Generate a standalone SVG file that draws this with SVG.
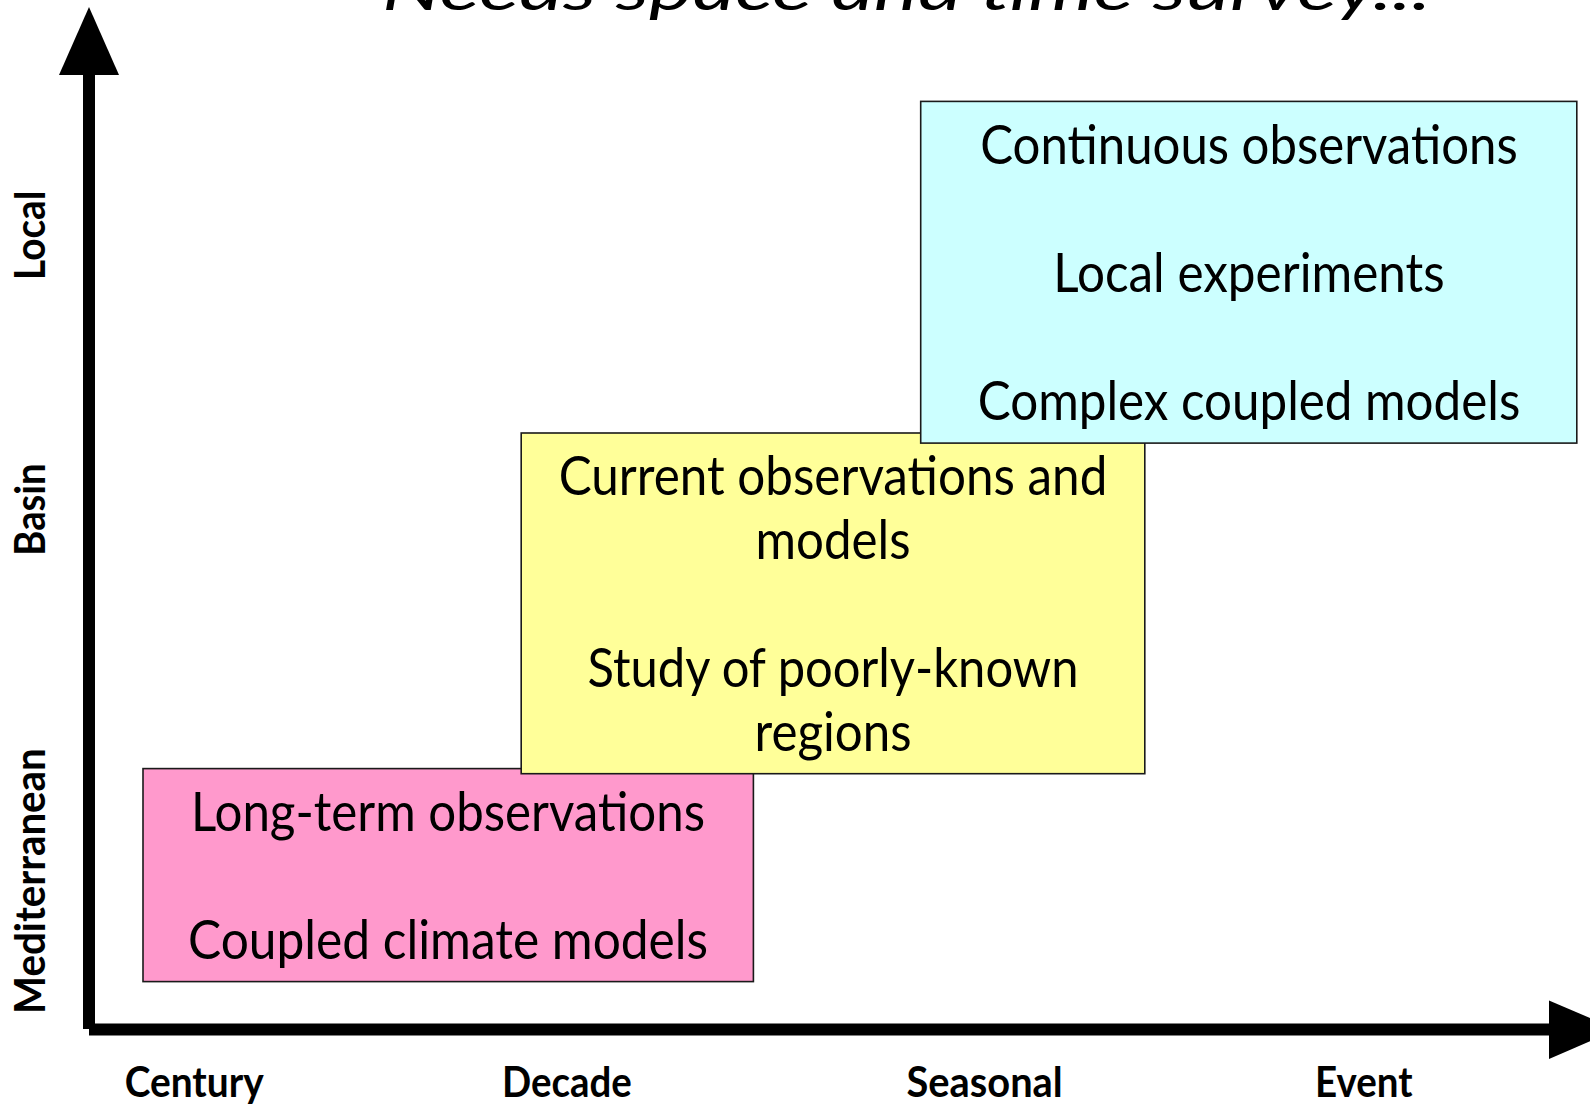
<svg xmlns="http://www.w3.org/2000/svg" width="1590" height="1104" viewBox="0 0 1590 1104">
<style>
.box{stroke:#1a1a1a;stroke-width:1.6}
.bt{font-family:Lato,"Open Sans","Liberation Sans",sans-serif;font-size:53.3px;fill:#000;text-anchor:middle}
.ax{font-family:Lato,"Open Sans","Liberation Sans",sans-serif;font-size:42.7px;font-weight:bold;fill:#000}
.axis{stroke:#000;stroke-width:12;fill:none}
.head{fill:#000}
</style>
<rect width="1590" height="1104" fill="#fff"/>
<g id="title">
<text x="382" y="9.5" font-family="Lato,'Open Sans','Liberation Sans',sans-serif" font-style="italic" font-size="58.7" textLength="1049" lengthAdjust="spacingAndGlyphs">Needs space and time survey...</text>
</g>
<g id="connectors">
<line class="axis" x1="89" y1="74" x2="89" y2="1029"/>
<polygon class="head" points="89,7 59,75 119,75"/>
<line class="axis" x1="89" y1="1029.5" x2="1550" y2="1029.5"/>
<polygon class="head" points="1549,1000.5 1549,1059 1617,1029.5"/>
</g>
<g id="node-longterm">
<rect class="box" x="143" y="768.6" width="610.4" height="213" fill="#FF99CC"/>
<text class="bt" x="448" y="831" textLength="514" lengthAdjust="spacingAndGlyphs">Long-term observations</text>
<text class="bt" x="448" y="959" textLength="520" lengthAdjust="spacingAndGlyphs">Coupled climate models</text>
</g>
<g id="node-current">
<rect class="box" x="521.2" y="433" width="623.6" height="340.7" fill="#FFFF99"/>
<text class="bt" x="833" y="495" textLength="548.6" lengthAdjust="spacingAndGlyphs">Current observations and</text>
<text class="bt" x="833" y="559" textLength="155" lengthAdjust="spacingAndGlyphs">models</text>
<text class="bt" x="833" y="687" textLength="491" lengthAdjust="spacingAndGlyphs">Study of poorly-known</text>
<text class="bt" x="833" y="751" textLength="157" lengthAdjust="spacingAndGlyphs">regions</text>
</g>
<g id="node-continuous">
<rect class="box" x="920.7" y="101.4" width="656.1" height="341.7" fill="#CCFFFF"/>
<text class="bt" x="1249" y="164" textLength="537.4" lengthAdjust="spacingAndGlyphs">Continuous observations</text>
<text class="bt" x="1249" y="292" textLength="391.4" lengthAdjust="spacingAndGlyphs">Local experiments</text>
<text class="bt" x="1249" y="420" textLength="542.5" lengthAdjust="spacingAndGlyphs">Complex coupled models</text>
</g>
<g id="x-labels">
<text class="ax" x="124.7" y="1097" textLength="139" lengthAdjust="spacingAndGlyphs">Century</text>
<text class="ax" x="502" y="1097" textLength="129.7" lengthAdjust="spacingAndGlyphs">Decade</text>
<text class="ax" x="906.5" y="1097" textLength="156.2" lengthAdjust="spacingAndGlyphs">Seasonal</text>
<text class="ax" x="1315" y="1097" textLength="97.5" lengthAdjust="spacingAndGlyphs">Event</text>
</g>
<g id="y-labels">
<text class="ax" transform="translate(44.5,279.9) rotate(-90)" textLength="89.3" lengthAdjust="spacingAndGlyphs">Local</text>
<text class="ax" transform="translate(44.5,555.7) rotate(-90)" textLength="92.3" lengthAdjust="spacingAndGlyphs">Basin</text>
<text class="ax" transform="translate(44.5,1014) rotate(-90)" textLength="265.7" lengthAdjust="spacingAndGlyphs">Mediterranean</text>
</g>
</svg>
